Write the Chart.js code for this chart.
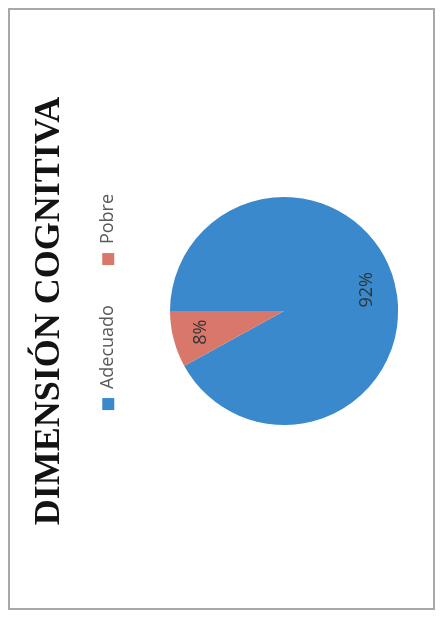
<!DOCTYPE html>
<html>
<head>
<meta charset="utf-8">
<script src="https://cdn.jsdelivr.net/npm/chart.js@4"></script>
<style>
  html, body { margin: 0; padding: 0; background: #fff; }
  body { width: 441px; height: 617px; position: relative; overflow: hidden; }
  #frame {
    position: absolute; left: 8px; top: 8px; width: 427px; height: 602px;
    border: 2px solid #a8a8a8; box-sizing: border-box;
  }
  /* chart is drawn upright, then turned a quarter left like the scan */
  #wrap {
    position: absolute; left: -88px; top: 88px; width: 617px; height: 441px;
    transform: rotate(-90deg);
  }
</style>
</head>
<body>
<div id="frame"></div>
<div id="wrap"><canvas id="chartCognitiva"></canvas></div>
<script>
const chartTitle = 'DIMENSIÓN COGNITIVA';
const categories = ['Adecuado', 'Pobre'];
const percentValues = [92, 8];
const sliceColors = ['#3a89cd', '#d9786a'];

// draws the "92%" / "8%" text inside each slice
const sliceLabels = {
    id: 'sliceLabels',
    afterLayout(chart) {
        // legend sits a little off the pie's centre in the original
        chart.legend.left += 9;
        chart.legend.right += 9;
    },
    afterDatasetsDraw(chart) {
        const ctx = chart.ctx;
        const meta = chart.getDatasetMeta(0);
        ctx.save();
        ctx.font = '18px "Open Sans"';
        ctx.fillStyle = '#333333';
        ctx.textAlign = 'center';
        ctx.textBaseline = 'middle';
        meta.data.forEach((arc, i) => {
            const mid = (arc.startAngle + arc.endAngle) / 2;
            const r = arc.outerRadius * 0.75;
            ctx.fillText(percentValues[i] + '%', arc.x + Math.cos(mid) * r, arc.y + Math.sin(mid) * r);
        });
        ctx.restore();
    }
};

const ctx = document.getElementById('chartCognitiva').getContext('2d');
new Chart(ctx, {
    type: 'pie',
    data: {
        labels: categories,
        datasets: [{ data: percentValues, backgroundColor: sliceColors, borderWidth: 0, radius: 114 }]
    },
    options: {
        responsive: true,
        maintainAspectRatio: false,
        animation: false,
        layout: { padding: { right: 5 } },
        plugins: {
            title: {
                display: true,
                text: chartTitle,
                color: '#141414',
                font: { family: '"Liberation Serif"', size: 36, weight: 'bold' },
                padding: { top: 28, bottom: -12 }
            },
            legend: {
                position: 'top',
                labels: {
                    color: '#595959',
                    font: { family: '"Open Sans"', size: 18 },
                    boxWidth: 12,
                    boxHeight: 12,
                    padding: 40
                }
            },
            tooltip: { enabled: false }
        }
    },
    plugins: [sliceLabels]
});
</script>
</body>
</html>
